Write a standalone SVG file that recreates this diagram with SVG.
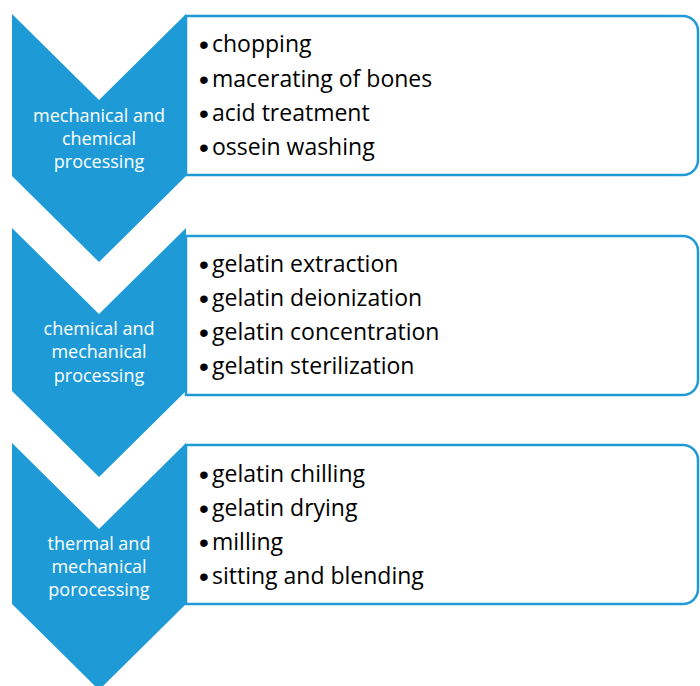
<svg xmlns="http://www.w3.org/2000/svg" width="700" height="686" viewBox="0 0 700 686">
<style>
.chev{fill:#1E9BD7}
.box{fill:#fff;stroke:#1E9BD7;stroke-width:2.5}
.lbl{font-family:"Open Sans","Liberation Sans",sans-serif;font-size:18px;fill:#fff;text-anchor:middle}
.item{font-family:"Open Sans","Liberation Sans",sans-serif;font-size:23px;fill:#000}
.bul{font-family:"Liberation Sans",sans-serif;font-size:28px}
</style>
<rect width="700" height="686" fill="#fff"/>
<g id="box1"><path class="box" d="M186,16 H683 A15,15 0 0 1 698,31 V160 A15,15 0 0 1 683,175 H186 Z"/>
<text class="item" x="199" y="54"><tspan class="bul">•</tspan><tspan x="212" dy="-2">chopping</tspan></text>
<text class="item" x="199" y="89"><tspan class="bul">•</tspan><tspan x="212" dy="-2">macerating of bones</tspan></text>
<text class="item" x="199" y="123"><tspan class="bul">•</tspan><tspan x="212" dy="-2">acid treatment</tspan></text>
<text class="item" x="199" y="157"><tspan class="bul">•</tspan><tspan x="212" dy="-2">ossein washing</tspan></text></g>
<g id="box2"><path class="box" d="M186,236 H683 A15,15 0 0 1 698,251 V380 A15,15 0 0 1 683,395 H186 Z"/>
<text class="item" x="199" y="274"><tspan class="bul">•</tspan><tspan x="212" dy="-2">gelatin extraction</tspan></text>
<text class="item" x="199" y="308"><tspan class="bul">•</tspan><tspan x="212" dy="-2">gelatin deionization</tspan></text>
<text class="item" x="199" y="342"><tspan class="bul">•</tspan><tspan x="212" dy="-2">gelatin concentration</tspan></text>
<text class="item" x="199" y="376"><tspan class="bul">•</tspan><tspan x="212" dy="-2">gelatin sterilization</tspan></text></g>
<g id="box3"><path class="box" d="M186,445 H683 A15,15 0 0 1 698,460 V589 A15,15 0 0 1 683,604 H186 Z"/>
<text class="item" x="199" y="484"><tspan class="bul">•</tspan><tspan x="212" dy="-2">gelatin chilling</tspan></text>
<text class="item" x="199" y="518"><tspan class="bul">•</tspan><tspan x="212" dy="-2">gelatin drying</tspan></text>
<text class="item" x="199" y="552"><tspan class="bul">•</tspan><tspan x="212" dy="-2">milling</tspan></text>
<text class="item" x="199" y="586"><tspan class="bul">•</tspan><tspan x="212" dy="-2">sitting and blending</tspan></text></g>
<g id="step1"><path class="chev" d="M12,14 L99,100 L186,14 L186,176 L99,262 L12,176 Z"/>
<text class="lbl" x="99" y="122">mechanical and</text>
<text class="lbl" x="99" y="145">chemical</text>
<text class="lbl" x="99" y="168">processing</text></g>
<g id="step2"><path class="chev" d="M12,228 L99,314 L186,228 L186,391 L99,477 L12,391 Z"/>
<text class="lbl" x="99" y="335">chemical and</text>
<text class="lbl" x="99" y="358">mechanical</text>
<text class="lbl" x="99" y="382">processing</text></g>
<g id="step3"><path class="chev" d="M12,443 L99,529 L186,443 L186,604 L99,690 L12,604 Z"/>
<text class="lbl" x="99" y="550">thermal and</text>
<text class="lbl" x="99" y="573">mechanical</text>
<text class="lbl" x="99" y="596">porocessing</text></g>
<g id="connectors"></g>
</svg>
